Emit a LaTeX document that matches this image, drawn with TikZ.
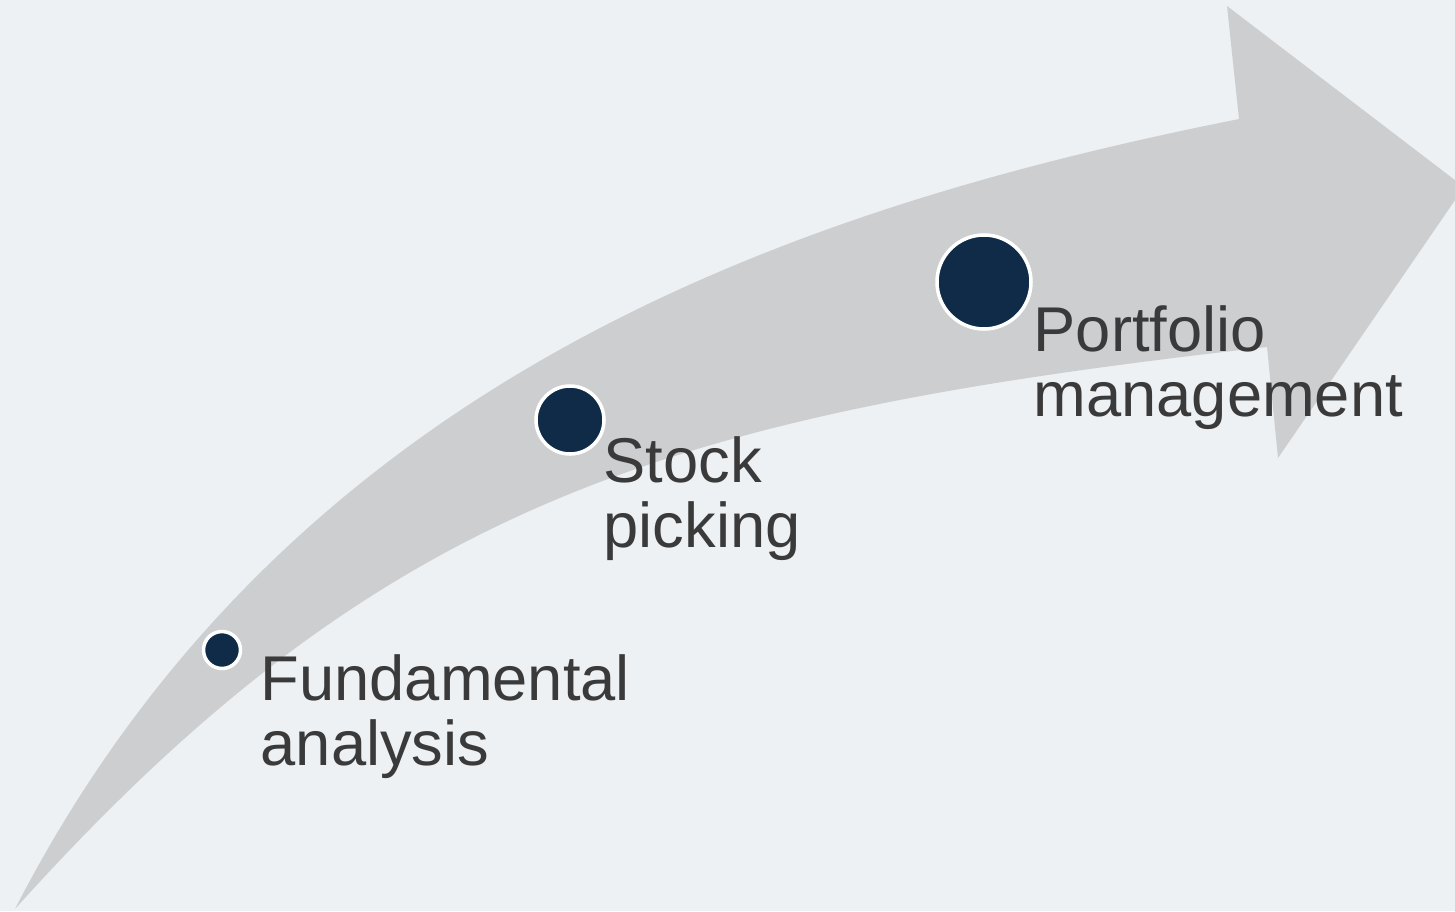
\documentclass[tikz,border=0pt]{standalone}
\usepackage{fontspec}
\setmainfont{Liberation Sans}
\definecolor{bgcol}{HTML}{EDF1F4}
\definecolor{arrowcol}{HTML}{CDCED0}
\definecolor{dotcol}{HTML}{0F2B47}
\definecolor{txtcol}{HTML}{3A3A3A}
\tikzset{
	dot/.style={circle,fill=dotcol,draw=white,line width=1pt,inner sep=0pt},
	lbl/.style={anchor=base west,align=left,inner sep=0pt,text=txtcol,font=\fontsize{18}{18.3}\selectfont}
}
\begin{document}
\begin{tikzpicture}[>=latex,scale=1]
			%(x,y) in cm, frame 14.55 x 9.11
			\fill[bgcol] (0,0) rectangle (14.55,9.11);
			\clip (0,0) rectangle (14.55,9.11);
			\coordinate (T) at (0.15,0.02);\coordinate (U) at (12.39,7.92);\coordinate (V) at (12.67,5.64);
			\coordinate (H1) at (12.27,9.05);\coordinate (H2) at (14.64,7.24);\coordinate (H3) at (12.78,4.53);
			\fill[arrowcol] (T) .. controls (2.89,5.35) and (7.98,7.04) .. (U)--(H1)--(H2)--(H3)--(V) .. controls (6.71,4.97) and (3.83,4.11) .. (T)--cycle;
			\node[dot,minimum size=0.37cm] (fa) at (2.22,2.61){};
			\node[dot,minimum size=0.68cm] (sp) at (5.70,4.91){};
			\node[dot,minimum size=0.94cm] (pm) at (9.84,6.29){};
			%base = last line
			\node[lbl] (fatext) at (2.60,1.46){Fundamental\\analysis};
			\node[lbl] (sptext) at (6.03,3.64){Stock\\picking};
			\node[lbl] (pmtext) at (10.33,4.95){Portfolio\\management};
		\end{tikzpicture}
\end{document}
